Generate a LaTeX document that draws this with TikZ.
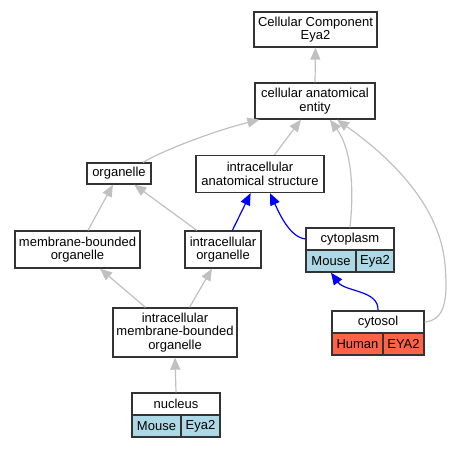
\documentclass[tikz,border=0pt]{standalone}
\usepackage{fontspec}
\setmainfont{Liberation Sans}
\usetikzlibrary{arrows.meta,calc}
\definecolor{edgegray}{HTML}{C0C0C0}
\definecolor{boxline}{HTML}{333333}
\definecolor{mouseblue}{HTML}{ADD8E6}
\definecolor{humanred}{HTML}{FF6347}
\begin{document}
\begin{tikzpicture}[x=1pt,y=-1pt,
  box/.style={draw=boxline, line width=1.3pt, fill=white, inner sep=0pt, align=center,
    font=\fontsize{13}{13.4}\selectfont},
  mousecell/.style={box, fill=mouseblue},
  humancell/.style={box, fill=humanred},
  gedge/.style={draw=edgegray, line width=1.2pt, -{Triangle[length=12pt,width=10pt]}},
  bedge/.style={draw=blue, line width=1.2pt, -{Triangle[length=12pt,width=10pt]}}
]
\useasboundingbox (0,0) rectangle (452,448);
% nodes
\node[box, minimum width=123pt, minimum height=35pt] (cce) at (315.5,29.5) {Cellular Component\\Eya2};
\node[box, minimum width=120pt, minimum height=36pt] (cae) at (315,101) {cellular anatomical\\entity};
\node[box, minimum width=64pt, minimum height=21pt] (org) at (119,173.5) {organelle};
\node[box, minimum width=128pt, minimum height=37pt] (ias) at (260,174) {intracellular\\anatomical structure};
\node[box, minimum width=125pt, minimum height=37pt] (mbo) at (77.5,249.5) {membrane-bounded\\organelle};
\node[box, minimum width=76pt, minimum height=37pt] (io) at (223,249.5) {intracellular\\organelle};
\node[box, minimum width=124pt, minimum height=49pt] (imbo) at (175,332.5) {intracellular\\membrane-bounded\\organelle};
% cytoplasm record
\node[box, minimum width=88pt, minimum height=22pt] (cyto) at (350,239) {cytoplasm};
\node[mousecell, minimum width=50pt, minimum height=22pt] (cytoM) at (331,261) {Mouse};
\node[mousecell, minimum width=38pt, minimum height=22pt] (cytoE) at (375,261) {Eya2};
% cytosol record
\node[box, minimum width=92pt, minimum height=22pt] (csol) at (378,322) {cytosol};
\node[humancell, minimum width=51pt, minimum height=22pt] (csolH) at (357.5,344) {Human};
\node[humancell, minimum width=41pt, minimum height=22pt] (csolE) at (403.5,344) {EYA2};
% nucleus record
\node[box, minimum width=88pt, minimum height=22pt] (nuc) at (176,404) {nucleus};
\node[mousecell, minimum width=49pt, minimum height=22pt] (nucM) at (156.5,426) {Mouse};
\node[mousecell, minimum width=39pt, minimum height=22pt] (nucE) at (200.5,426) {Eya2};
% edges
\draw[gedge] (cae.north) -- (cce.south);
\draw[gedge] ($(org.north)+(24,0)$) .. controls (160,152) and (210,132) .. ($(cae.south west)+(5,0)$);
\draw[gedge] (ias) -- (cae);
\draw[gedge] (cyto.north) .. controls (354,190) and (352,150) .. ($(cae.south)+(15,0)$);
\draw[gedge] (csol.east) .. controls (445,320) and (448,300) .. (445,265)
  .. controls (440,200) and (380,150) .. ($(cae.south)+(22,0)$);
\draw[gedge] (mbo) -- (org);
\draw[gedge] (io) -- (org);
\draw[bedge] (io) -- (ias);
\draw[bedge] (cyto.west) .. controls (290,237) and (280,215) .. ($(ias.south)+(10,0)$);
\draw[gedge] (imbo) -- (mbo);
\draw[gedge] (imbo) -- (io);
\draw[gedge] (nuc.north) -- (imbo.south);
\draw[bedge] (csol.north) .. controls (379,290) and (345,292) .. (cytoM.south);
\end{tikzpicture}
\end{document}
